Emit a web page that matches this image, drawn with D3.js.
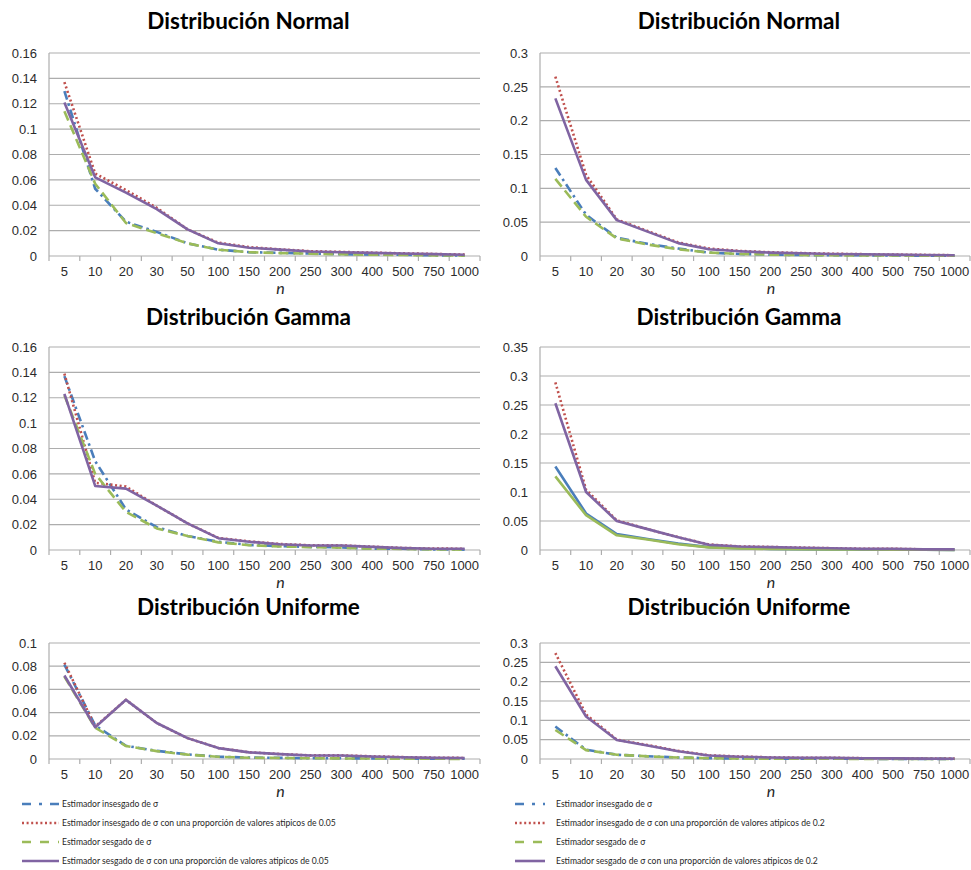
<!DOCTYPE html>
<html>
<head>
<meta charset="utf-8">
<script src="https://cdn.jsdelivr.net/npm/d3@7"></script>
<style>
  body { margin: 0; background: #fff; }
  svg { display: block; font-family: Lato, "Open Sans", sans-serif; }
  .grid line { stroke: #adadad; stroke-width: 1.2; }
  .axis path, .axis line { stroke: #adadad; stroke-width: 1.2; }
  .axis text { fill: #2b2b2b; font-size: 13px; }
  .title { font-weight: bold; font-size: 22.5px; fill: #000; }
  .legend text { font-size: 8.6px; fill: #262626; }
</style>
</head>
<body>
<svg id="chart" width="971" height="870"></svg>
<script>
// sample sizes
const categories = ["5","10","20","30","50","100","150","200","250","300","400","500","750","1000"];

// Normal, 0.05 atipicos
const normal05Ins    = [0.130,0.053,0.027,0.019,0.010,0.005,0.003,0.0025,0.002,0.0015,0.001,0.001,0.0005,0.0003];
const normal05InsAt  = [0.137,0.065,0.052,0.038,0.021,0.0105,0.007,0.0052,0.0038,0.0032,0.0026,0.0021,0.0016,0.0011];
const normal05Ses    = [0.114,0.057,0.026,0.018,0.010,0.005,0.003,0.0023,0.0018,0.0014,0.001,0.0008,0.0005,0.0003];
const normal05SesAt  = [0.121,0.062,0.050,0.037,0.021,0.010,0.0065,0.005,0.0035,0.003,0.0025,0.002,0.0015,0.001];

// Normal, 0.2 atipicos
const normal20Ins    = [0.130,0.061,0.027,0.018,0.011,0.005,0.003,0.002,0.0015,0.001,0.001,0.0008,0.0005,0.0003];
const normal20InsAt  = [0.265,0.120,0.054,0.037,0.020,0.011,0.0075,0.0055,0.0043,0.0033,0.0027,0.0021,0.0016,0.0011];
const normal20Ses    = [0.114,0.058,0.026,0.017,0.010,0.005,0.003,0.002,0.0014,0.001,0.0009,0.0007,0.0005,0.0003];
const normal20SesAt  = [0.233,0.1125,0.053,0.036,0.019,0.010,0.007,0.005,0.004,0.003,0.0025,0.002,0.0015,0.001];

// Gamma, 0.05 atipicos
const gamma05Ins     = [0.137,0.070,0.032,0.018,0.011,0.0065,0.004,0.003,0.0025,0.002,0.001,0.001,0.0005,0.0003];
const gamma05InsAt   = [0.139,0.053,0.050,0.035,0.021,0.0095,0.0068,0.0047,0.0037,0.0036,0.0026,0.0016,0.0011,0.001];
const gamma05Ses     = [0.122,0.060,0.030,0.017,0.011,0.006,0.0038,0.0028,0.0023,0.0018,0.001,0.0009,0.0005,0.0003];
const gamma05SesAt   = [0.123,0.0505,0.0484,0.035,0.021,0.0093,0.0065,0.0045,0.0035,0.0035,0.0025,0.0015,0.001,0.001];

// Gamma, 0.2 atipicos
const gamma20Ins     = [0.144,0.063,0.0276,0.019,0.011,0.005,0.003,0.002,0.0015,0.001,0.001,0.0007,0.0005,0.0003];
const gamma20InsAt   = [0.289,0.104,0.051,0.036,0.022,0.0095,0.0062,0.0052,0.0041,0.0031,0.0021,0.0021,0.0011,0.001];
const gamma20Ses     = [0.127,0.060,0.0253,0.018,0.010,0.0045,0.0028,0.0018,0.0013,0.0009,0.0009,0.0006,0.0004,0.0003];
const gamma20SesAt   = [0.253,0.100,0.050,0.036,0.022,0.009,0.006,0.005,0.004,0.003,0.002,0.002,0.001,0.001];

// Uniforme, 0.05 atipicos
const unif05Ins      = [0.0814,0.029,0.0114,0.007,0.004,0.002,0.0012,0.001,0.0007,0.0006,0.0005,0.0004,0.0003,0.0002];
const unif05InsAt    = [0.083,0.028,0.051,0.031,0.018,0.0095,0.0058,0.0043,0.0031,0.0031,0.0023,0.0016,0.0011,0.0009];
const unif05Ses      = [0.071,0.027,0.0112,0.0068,0.0038,0.0019,0.0011,0.0009,0.0006,0.0005,0.0004,0.0003,0.0002,0.0001];
const unif05SesAt    = [0.072,0.0274,0.051,0.031,0.018,0.0094,0.0057,0.0042,0.003,0.003,0.0022,0.0015,0.001,0.0008];

// Uniforme, 0.2 atipicos
const unif20Ins      = [0.084,0.024,0.011,0.007,0.004,0.002,0.0012,0.001,0.0008,0.0006,0.0005,0.0004,0.0003,0.0002];
const unif20InsAt    = [0.274,0.115,0.050,0.036,0.021,0.0095,0.0063,0.0042,0.0032,0.0031,0.0021,0.0016,0.0011,0.0009];
const unif20Ses      = [0.075,0.023,0.011,0.0068,0.0038,0.0019,0.0011,0.0009,0.0007,0.0005,0.0004,0.0003,0.0002,0.0001];
const unif20SesAt    = [0.240,0.110,0.049,0.035,0.020,0.009,0.006,0.004,0.003,0.003,0.002,0.0015,0.001,0.0008];

const legendLeft = [
  "Estimador insesgado de σ",
  "Estimador insesgado de σ con una proporción de valores atipicos de 0.05",
  "Estimador sesgado de σ",
  "Estimador sesgado de σ con una proporción de valores atipicos de 0.05"
];
const legendRight = [
  "Estimador insesgado de σ",
  "Estimador insesgado de σ con una proporción de valores atipicos de 0.2",
  "Estimador sesgado de σ",
  "Estimador sesgado de σ con una proporción de valores atipicos de 0.2"
];

const colors = ["#4a7ebb", "#c0504d", "#9bbb59", "#8064a2"];
const dashes = ["9,4,2.5,4", "2,2.6", "10,5", null];

const panels = [
  {title: "Distribución Normal",   col: 0, row: 0, max: 0.16, step: 0.02, series: [normal05Ins, normal05InsAt, normal05Ses, normal05SesAt]},
  {title: "Distribución Normal",   col: 1, row: 0, max: 0.3,  step: 0.05, series: [normal20Ins, normal20InsAt, normal20Ses, normal20SesAt]},
  {title: "Distribución Gamma",    col: 0, row: 1, max: 0.16, step: 0.02, series: [gamma05Ins, gamma05InsAt, gamma05Ses, gamma05SesAt]},
  {title: "Distribución Gamma",    col: 1, row: 1, max: 0.35, step: 0.05, series: [gamma20Ins, gamma20InsAt, gamma20Ses, gamma20SesAt], solid: [0, 2]},
  {title: "Distribución Uniforme", col: 0, row: 2, max: 0.1,  step: 0.02, series: [unif05Ins, unif05InsAt, unif05Ses, unif05SesAt]},
  {title: "Distribución Uniforme", col: 1, row: 2, max: 0.3,  step: 0.05, series: [unif20Ins, unif20InsAt, unif20Ses, unif20SesAt]}
];

const colX = [[49, 480], [540, 970]];
const rowY = [[53, 256], [347, 550], [643, 759]];
const titleY = [20, 316, 606];

const svg = d3.select("#chart");

panels.forEach(p => {
  const [x0, x1] = colX[p.col];
  const [y0, y1] = rowY[p.row];

  const x = d3.scaleBand().domain(categories).range([x0, x1]);
  const y = d3.scaleLinear().domain([0, p.max]).range([y1, y0]);
  const ticks = d3.range(0, p.max + p.step / 2, p.step);

  const g = svg.append("g");

  // gridlines
  g.append("g").attr("class", "grid")
    .selectAll("line").data(ticks.slice(1)).join("line")
    .attr("x1", x0).attr("x2", x1)
    .attr("y1", d => y(d)).attr("y2", d => y(d));

  // y axis
  const yAxis = g.append("g").attr("class", "axis")
    .attr("transform", `translate(${x0},0)`)
    .call(d3.axisLeft(y).tickValues(ticks).tickFormat(d3.format("~g")).tickSize(0).tickPadding(12));
  yAxis.select(".domain").attr("d", `M0,${y0}V${y1}`);

  // x axis: ticks between categories
  const xAxis = g.append("g").attr("class", "axis")
    .attr("transform", `translate(0,${y1})`)
    .call(d3.axisBottom(x).tickSize(0).tickPadding(11));
  xAxis.select(".domain").attr("d", `M${x0},0H${x1}`);
  xAxis.selectAll(".sep").data(categories.concat([""])).join("line")
    .attr("class", "sep")
    .attr("x1", (d, i) => x0 + i * x.step())
    .attr("x2", (d, i) => x0 + i * x.step())
    .attr("y1", 0).attr("y2", 5);

  // n label
  g.append("text")
    .attr("x", (x0 + x1) / 2 + 16).attr("y", y1 + 38)
    .attr("text-anchor", "middle")
    .style("font-style", "italic").style("font-size", "16px").style("fill", "#262626")
    .text("n");

  // title
  g.append("text").attr("class", "title")
    .attr("x", (x0 + x1) / 2 - 16).attr("y", titleY[p.row])
    .attr("text-anchor", "middle").attr("dominant-baseline", "central")
    .text(p.title);

  const line = d3.line()
    .x((d, i) => x(categories[i]) + x.bandwidth() / 2)
    .y(d => y(d));

  p.series.forEach((s, k) => {
    const solid = p.solid && p.solid.includes(k);
    g.append("path")
      .datum(s)
      .attr("fill", "none")
      .attr("stroke", colors[k])
      .attr("stroke-width", 2.6)
      .attr("stroke-linejoin", "round")
      .attr("stroke-dasharray", solid ? null : dashes[k])
      .attr("d", line);
  });
});

// legends
function drawLegend(labels, sx0, sx1, tx) {
  const lg = svg.append("g").attr("class", "legend");
  const ys = [804, 823, 842, 861];
  labels.forEach((lab, k) => {
    lg.append("line")
      .attr("x1", sx0).attr("x2", sx1).attr("y1", ys[k]).attr("y2", ys[k])
      .attr("stroke", colors[k]).attr("stroke-width", 2.6)
      .attr("stroke-dasharray", k === 0 ? "9,8,3,8" : k === 1 ? "2,2.6" : k === 2 ? "9,9" : null);
    lg.append("text").attr("x", tx).attr("y", ys[k]).attr("dy", "0.33em").text(lab);
  });
}
drawLegend(legendLeft, 22, 59, 62);
drawLegend(legendRight, 515, 545, 556);
</script>
</body>
</html>
